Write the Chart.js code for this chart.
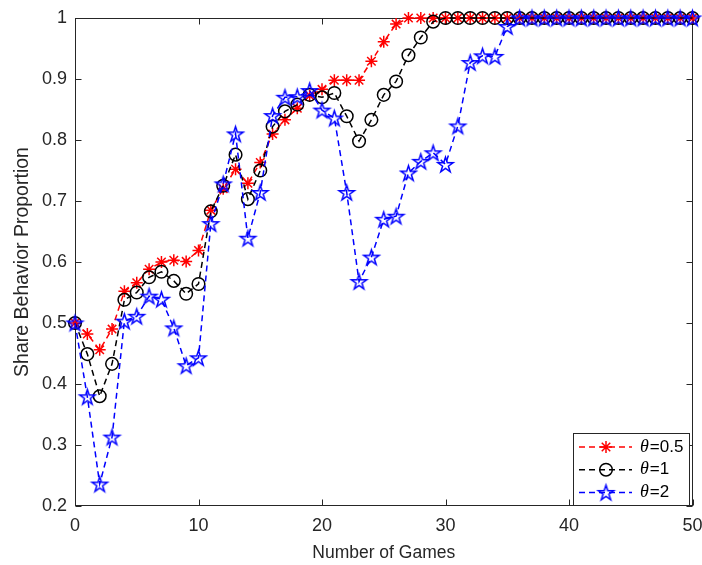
<!DOCTYPE html>
<html><head><meta charset="utf-8">
<script src="https://cdn.jsdelivr.net/npm/chart.js@4.4.1/dist/chart.umd.min.js"></script>
<style>html,body{margin:0;padding:0;background:#fff;}canvas{display:block;}</style>
</head><body>
<canvas id="c" width="702" height="565"></canvas>
<script>
const games = [0,1,2,3,4,5,6,7,8,9,10,11,12,13,14,15,16,17,18,19,20,21,22,23,24,25,26,27,28,29,30,31,32,33,34,35,36,37,38,39,40,41,42,43,44,45,46,47,48,49,50];
const theta05 = [0.5,0.482,0.456,0.490,0.552,0.566,0.588,0.600,0.603,0.601,0.619,0.685,0.720,0.752,0.729,0.763,0.810,0.833,0.852,0.873,0.883,0.898,0.898,0.898,0.929,0.961,0.990,1,1,1,1,1,1,1,1,1,1,1,1,1,1,1,1,1,1,1,1,1,1,1,1];
const theta1 = [0.5,0.449,0.380,0.433,0.538,0.550,0.575,0.584,0.569,0.548,0.564,0.683,0.725,0.776,0.703,0.750,0.822,0.847,0.858,0.874,0.870,0.877,0.839,0.798,0.833,0.874,0.896,0.939,0.968,0.994,1,1,1,1,1,1,1,1,1,1,1,1,1,1,1,1,1,1,1,1,1];
const theta2 = [0.5,0.379,0.236,0.313,0.503,0.511,0.544,0.539,0.492,0.430,0.443,0.663,0.728,0.810,0.639,0.714,0.840,0.870,0.871,0.881,0.849,0.836,0.714,0.568,0.608,0.670,0.675,0.746,0.765,0.779,0.760,0.823,0.927,0.938,0.937,0.986,1,1,1,1,1,1,1,1,1,1,1,1,1,1,1];
const thetaLabels = ['0.5','1','2'];
const xTicks = [0,10,20,30,40,50];
const yTicks = [0.2,0.3,0.4,0.5,0.6,0.7,0.8,0.9,1];
const xTitle = 'Number of Games';
const yTitle = 'Share Behavior Proportion';

const SANS = "'Liberation Sans', Arial, sans-serif";
const TXT = '#262626';
const TICK_FONT = 18;

function pentagram(color, r, lw) {
  const size = Math.ceil(2 * r + 2 * lw + 2);
  const c = document.createElement('canvas');
  c.width = size; c.height = size;
  const g = c.getContext('2d');
  const cx = size / 2, cy = size / 2 + r * 0.1;
  g.beginPath();
  for (let k = 0; k < 10; k++) {
    const rr = k % 2 === 0 ? r : r * 0.382;
    const a = -Math.PI / 2 + k * Math.PI / 5;
    const px = cx + rr * Math.cos(a), py = cy + rr * Math.sin(a);
    if (k === 0) g.moveTo(px, py); else g.lineTo(px, py);
  }
  g.closePath();
  g.strokeStyle = color; g.lineWidth = lw; g.lineJoin = 'miter';
  g.stroke();
  return c;
}
const blueStar = pentagram('#0000ff', 8, 1.5);

const styles = [
  {color:'#ff0000', pointStyle:'star', radius:6},
  {color:'#000000', pointStyle:'circle', radius:6.3},
  {color:'#0000ff', pointStyle:blueStar, radius:8}
];
const seriesData = [theta05, theta1, theta2];

const datasets = seriesData.map((vals, i) => ({
  label: '\u03b8=' + thetaLabels[i],
  data: games.map((g, j) => ({x: g, y: vals[j]})),
  borderColor: styles[i].color,
  backgroundColor: 'rgba(0,0,0,0)',
  borderWidth: 1.5,
  borderDash: [6, 4],
  tension: 0,
  fill: false,
  pointStyle: styles[i].pointStyle,
  pointRadius: styles[i].radius,
  pointBorderWidth: 1.5,
  pointBorderColor: styles[i].color,
  pointBackgroundColor: 'rgba(0,0,0,0)',
  clip: false,
  order: 2 - i
}));

const framePlugin = {
  id: 'frame',
  beforeDatasetsDraw(chart) {
    const {ctx, chartArea: a, scales: {x, y}} = chart;
    ctx.save();
    ctx.strokeStyle = TXT; ctx.lineWidth = 1;
    const L = Math.round(a.left) + 0.5, R = Math.round(a.right) - 0.5;
    const T = Math.round(a.top) + 0.5, B = Math.round(a.bottom) - 0.5;
    ctx.strokeRect(L, T, R - L, B - T);
    const tl = 6;
    ctx.beginPath();
    xTicks.forEach(v => {
      const px = Math.round(x.getPixelForValue(v)) + 0.5;
      ctx.moveTo(px, B); ctx.lineTo(px, B - tl);
      ctx.moveTo(px, T); ctx.lineTo(px, T + tl);
    });
    yTicks.forEach(v => {
      const py = Math.round(y.getPixelForValue(v)) + 0.5;
      ctx.moveTo(L, py); ctx.lineTo(L + tl, py);
      ctx.moveTo(R, py); ctx.lineTo(R - tl, py);
    });
    ctx.stroke();
    ctx.restore();
  }
};

const legendPlugin = {
  id: 'mlegend',
  afterDraw(chart) {
    const {ctx, chartArea: a} = chart;
    const w = 116, h = 72;
    const x0 = Math.round(a.right) - 4 - w, y0 = Math.round(a.bottom) - 1 - h;
    ctx.save();
    ctx.fillStyle = '#ffffff';
    ctx.fillRect(x0, y0, w, h);
    ctx.strokeStyle = TXT; ctx.lineWidth = 1;
    ctx.strokeRect(x0 + 0.5, y0 + 0.5, w, h);
    datasets.forEach((ds, i) => {
      const cy = y0 + 14 + i * 22.7;
      ctx.save();
      ctx.strokeStyle = ds.borderColor; ctx.lineWidth = 1.5;
      ctx.setLineDash([6, 4]);
      ctx.beginPath(); ctx.moveTo(x0 + 6, cy); ctx.lineTo(x0 + 59, cy); ctx.stroke();
      ctx.setLineDash([]);
      ctx.fillStyle = 'rgba(0,0,0,0)';
      Chart.helpers.drawPoint(ctx, {pointStyle: ds.pointStyle, radius: ds.pointRadius, rotation: 0, borderWidth: 1.5}, x0 + 33, cy);
      ctx.restore();
      ctx.fillStyle = '#000000';
      ctx.textBaseline = 'middle';
      ctx.font = "italic 18px 'Liberation Serif', 'Times New Roman', serif";
      const tx = x0 + 67;
      ctx.fillText('\u03b8', tx, cy);
      const tw = ctx.measureText('\u03b8').width;
      ctx.font = "17px " + SANS;
      ctx.fillText('=' + thetaLabels[i], tx + tw + 1, cy);
    });
    ctx.restore();
  }
};

new Chart(document.getElementById('c'), {
  type: 'line',
  data: {datasets},
  options: {
    responsive: false,
    animation: false,
    devicePixelRatio: 1,
    events: [],
    layout: {padding: {top: 18, right: 6, left: 0, bottom: 0}},
    plugins: {legend: {display: false}, tooltip: {enabled: false}},
    scales: {
      x: {
        type: 'linear', min: 0, max: 50,
        grid: {display: false, drawTicks: false},
        border: {display: false},
        ticks: {color: TXT, font: {family: SANS, size: TICK_FONT}, padding: 9, maxRotation: 0,
                callback: v => String(v)},
        afterBuildTicks(s) { s.ticks = xTicks.map(v => ({value: v})); },
        afterFit(s) { s.height = 59; s.paddingLeft = 0; s.paddingRight = 0; },
        title: {display: true, text: xTitle, color: TXT, font: {family: SANS, size: 17.5}, padding: {top: 0, bottom: 1}}
      },
      y: {
        type: 'linear', min: 0.2, max: 1,
        grid: {display: false, drawTicks: false},
        border: {display: false},
        ticks: {color: TXT, font: {family: SANS, size: TICK_FONT}, padding: 8,
                callback: v => String(Math.round(v * 10) / 10)},
        afterBuildTicks(s) { s.ticks = yTicks.map(v => ({value: v})); },
        afterFit(s) { s.width = 75; s.paddingTop = 0; s.paddingBottom = 0; },
        title: {display: true, text: yTitle, color: TXT, font: {family: SANS, size: 19.5}, padding: {top: 11, bottom: 0}}
      }
    }
  },
  plugins: [framePlugin, legendPlugin]
});
</script>
</body></html>
